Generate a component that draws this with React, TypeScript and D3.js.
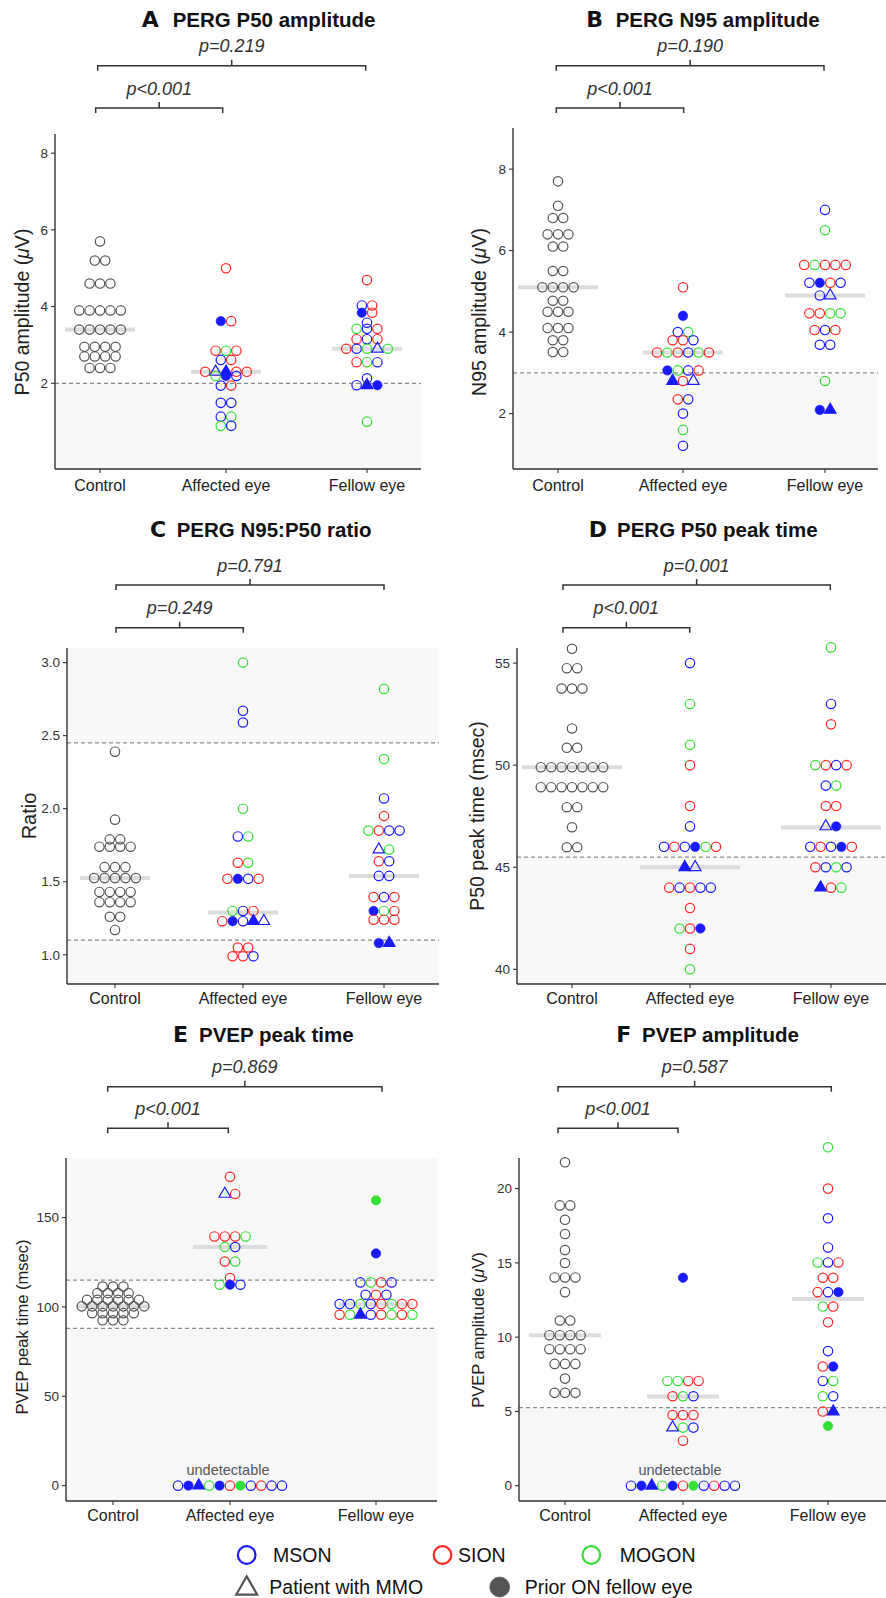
import React from 'react';
import * as d3 from 'd3';

const W = 886;
const H = 1598;
const FONT = '"Liberation Sans", Arial, Helvetica, sans-serif';

const categories = ['Control', 'Affected eye', 'Fellow eye'];

// point code: M = MSON, S = SION, G = MOGON, c = control; t = patient with MMO, f = prior ON fellow eye
type Pt = [number, string];

const COLORS: Record<string, string> = { c: '#555555', M: '#1a1aff', S: '#ff2626', G: '#33e033' };

// ---- A: PERG P50 amplitude
const aCtrl = [5.7, 5.2, 5.2, 4.6, 4.6, 4.6, 3.9, 3.9, 3.9, 3.9, 3.9, 3.4, 3.4, 3.4, 3.4, 3.4,
  2.95, 2.95, 2.95, 2.95, 2.7, 2.7, 2.7, 2.7, 2.4, 2.4, 2.4];
const aAff: Pt[] = [
  [5.0, 'S'], [3.62, 'Mf'], [3.62, 'S'], [2.85, 'S'], [2.85, 'G'], [2.85, 'S'], [2.61, 'M'], [2.61, 'S'],
  [2.3, 'S'], [2.3, 'Mt'], [2.3, 'Mtf'], [2.3, 'S'], [2.3, 'S'], [2.19, 'G'], [2.19, 'Mf'], [2.19, 'M'],
  [1.94, 'M'], [1.94, 'S'], [1.49, 'M'], [1.49, 'M'], [1.13, 'M'], [1.13, 'G'], [0.89, 'G'], [0.89, 'M'],
];
const aFel: Pt[] = [
  [4.69, 'S'], [4.03, 'M'], [4.03, 'S'], [3.84, 'Mf'], [3.84, 'S'], [3.58, 'M'],
  [3.42, 'G'], [3.42, 'M'], [3.42, 'S'], [3.15, 'S'], [3.15, 'M'], [3.15, 'S'],
  [2.9, 'S'], [2.9, 'M'], [2.9, 'G'], [2.9, 'Mt'], [2.9, 'G'], [2.55, 'S'], [2.55, 'G'], [2.55, 'M'],
  [2.13, 'M'], [1.95, 'M'], [1.95, 'Mtf'], [1.95, 'Mf'], [1.0, 'G'],
];
const aMedians = [3.4, 2.3, 2.9];

// ---- B: PERG N95 amplitude
const bCtrl = [7.7, 7.1, 6.8, 6.8, 6.4, 6.4, 6.4, 6.1, 6.1, 5.5, 5.5, 5.1, 5.1, 5.1, 5.1, 4.77, 4.77,
  4.5, 4.5, 4.5, 4.1, 4.1, 4.1, 3.8, 3.8, 3.51, 3.51];
const bAff: Pt[] = [
  [5.1, 'S'], [4.4, 'Mf'], [4.0, 'M'], [4.0, 'G'], [3.8, 'S'], [3.8, 'S'], [3.8, 'M'],
  [3.5, 'S'], [3.5, 'G'], [3.5, 'S'], [3.5, 'M'], [3.5, 'G'], [3.5, 'S'],
  [3.06, 'Mf'], [3.06, 'G'], [3.06, 'M'], [3.06, 'S'], [2.8, 'Mtf'], [2.8, 'S'], [2.8, 'Mt'],
  [2.35, 'S'], [2.35, 'M'], [2.0, 'M'], [1.6, 'G'], [1.21, 'M'],
];
const bFel: Pt[] = [
  [7.0, 'M'], [6.5, 'G'], [5.65, 'S'], [5.65, 'G'], [5.65, 'S'], [5.65, 'S'], [5.65, 'S'],
  [5.21, 'M'], [5.21, 'Mf'], [5.21, 'S'], [5.21, 'M'], [4.9, 'M'], [4.9, 'Mt'],
  [4.46, 'S'], [4.46, 'S'], [4.46, 'G'], [4.46, 'G'], [4.05, 'S'], [4.05, 'M'], [4.05, 'S'],
  [3.69, 'M'], [3.69, 'M'], [2.8, 'G'], [2.09, 'Mf'], [2.09, 'Mtf'],
];
const bMedians = [5.1, 3.5, 4.9];

// ---- C: PERG N95:P50 ratio
const cCtrl = [2.39, 1.925, 1.79, 1.79, 1.74, 1.74, 1.74, 1.74, 1.6, 1.6, 1.6, 1.525, 1.525, 1.525, 1.525, 1.525,
  1.43, 1.43, 1.43, 1.43, 1.36, 1.36, 1.36, 1.36, 1.26, 1.26, 1.17];
const cAff: Pt[] = [
  [3.0, 'G'], [2.67, 'M'], [2.59, 'M'], [2.0, 'G'], [1.81, 'M'], [1.81, 'G'], [1.63, 'S'], [1.63, 'G'],
  [1.52, 'S'], [1.52, 'Mf'], [1.52, 'M'], [1.52, 'S'], [1.3, 'G'], [1.3, 'M'], [1.3, 'S'],
  [1.23, 'S'], [1.23, 'Mf'], [1.23, 'M'], [1.23, 'Mtf'], [1.23, 'Mt'],
  [1.05, 'S'], [1.05, 'S'], [0.99, 'S'], [0.99, 'S'], [0.99, 'M'],
];
const cFel: Pt[] = [
  [2.82, 'G'], [2.34, 'G'], [2.07, 'M'], [1.95, 'S'], [1.85, 'G'], [1.85, 'S'], [1.85, 'M'], [1.85, 'M'],
  [1.72, 'Mt'], [1.72, 'G'], [1.64, 'S'], [1.64, 'M'], [1.54, 'M'], [1.54, 'M'],
  [1.395, 'S'], [1.395, 'M'], [1.395, 'S'], [1.3, 'Mf'], [1.3, 'G'], [1.3, 'S'],
  [1.24, 'S'], [1.24, 'S'], [1.24, 'S'], [1.08, 'Mf'], [1.08, 'Mtf'],
];
const cMedians = [1.525, 1.29, 1.54];

// ---- D: PERG P50 peak time
const dCtrl = [55.7, 54.75, 54.75, 53.75, 53.75, 53.75, 51.8, 50.85, 50.85,
  49.9, 49.9, 49.9, 49.9, 49.9, 49.9, 49.9, 48.92, 48.92, 48.92, 48.92, 48.92, 48.92, 48.92,
  47.94, 47.94, 46.96, 45.98, 45.98];
const dAff: Pt[] = [
  [55, 'M'], [53, 'G'], [51, 'G'], [50, 'S'], [48, 'S'], [47, 'M'],
  [46, 'M'], [46, 'S'], [46, 'M'], [46, 'Mf'], [46, 'G'], [46, 'S'], [45, 'Mtf'], [45, 'Mt'],
  [44, 'S'], [44, 'M'], [44, 'S'], [44, 'M'], [44, 'M'], [43, 'S'], [42, 'G'], [42, 'S'], [42, 'Mf'],
  [41, 'S'], [40, 'G'],
];
const dFel: Pt[] = [
  [55.77, 'G'], [53, 'M'], [52, 'S'], [50, 'G'], [50, 'S'], [50, 'M'], [50, 'S'], [49, 'M'], [49, 'G'],
  [48, 'S'], [48, 'S'], [47, 'Mt'], [47, 'Mf'], [46, 'M'], [46, 'S'], [46, 'M'], [46, 'Mf'], [46, 'S'],
  [45, 'S'], [45, 'M'], [45, 'G'], [45, 'M'], [44, 'Mtf'], [44, 'S'], [44, 'G'],
];
const dMedians = [49.9, 45, 46.95];

// ---- E: PVEP peak time
const undetectable: Pt[] = [
  [0, 'M'], [0, 'Mf'], [0, 'Mtf'], [0, 'G'], [0, 'Mf'], [0, 'S'], [0, 'Gf'], [0, 'M'], [0, 'S'], [0, 'M'], [0, 'M'],
];
const eCtrl = [111.4, 111.4, 111.4, 107.7, 107.7, 107.7, 107.7, 104, 104, 104, 104, 104, 104,
  100.3, 100.3, 100.3, 100.3, 100.3, 100.3, 100.3, 96.5, 96.5, 96.5, 96.5, 96.5, 92.5, 92.5, 92.5];
const eAff: Pt[] = [
  [172.8, 'S'], [163.2, 'Mt'], [163.2, 'S'], [139.4, 'S'], [139.4, 'S'], [139.4, 'S'], [139.4, 'G'],
  [133.5, 'G'], [133.5, 'M'], [125.4, 'S'], [125.4, 'G'], [116.1, 'S'],
  [112.4, 'G'], [112.4, 'Mf'], [112.4, 'M'], ...undetectable,
];
const eFel: Pt[] = [
  [159.6, 'Gf'], [129.9, 'Mf'], [113.7, 'M'], [113.7, 'G'], [113.7, 'S'], [113.7, 'M'],
  [106.8, 'M'], [106.8, 'S'], [106.8, 'M'],
  [101.6, 'M'], [101.6, 'M'], [101.6, 'G'], [101.6, 'M'], [101.6, 'S'], [101.6, 'G'], [101.6, 'S'], [101.6, 'S'],
  [95.6, 'S'], [95.6, 'G'], [95.6, 'Mtf'], [95.6, 'M'], [95.6, 'S'], [95.6, 'G'], [95.6, 'S'], [95.6, 'G'],
];
const eMedians = [100.3, 133.5, 101.5];

// ---- F: PVEP amplitude
const fCtrl = [21.77, 18.87, 18.87, 17.9, 16.94, 15.86, 14.99, 14.02, 14.02, 14.02, 13.03, 11.12, 11.12,
  10.13, 10.13, 10.13, 10.13, 9.19, 9.19, 9.19, 9.19, 8.2, 8.2, 8.2, 7.21, 6.25, 6.25, 6.25];
const fAff: Pt[] = [
  [14, 'Mf'], [7.05, 'G'], [7.05, 'G'], [7.05, 'S'], [7.05, 'S'], [6.02, 'S'], [6.02, 'G'], [6.02, 'M'],
  [4.76, 'S'], [4.76, 'S'], [4.76, 'S'], [3.91, 'Mt'], [3.91, 'G'], [3.91, 'M'], [3.03, 'S'], ...undetectable,
];
const fFel: Pt[] = [
  [22.78, 'G'], [20, 'S'], [18, 'M'], [16.04, 'M'], [15.03, 'G'], [15.03, 'M'], [15.03, 'S'],
  [14, 'S'], [14, 'S'], [13.03, 'S'], [13.03, 'M'], [13.03, 'Mf'], [12.06, 'G'], [12.06, 'S'],
  [11, 'S'], [9.06, 'M'], [8.02, 'S'], [8.02, 'Mf'], [7.05, 'M'], [7.05, 'G'], [6.02, 'G'], [6.02, 'M'],
  [4.99, 'S'], [4.99, 'Mtf'], [4.02, 'Gf'],
];
const fMedians = [10.13, 6.0, 12.56];

const legendItems = [
  { label: 'MSON', code: 'M' }, { label: 'SION', code: 'S' }, { label: 'MOGON', code: 'G' },
  { label: 'Patient with MMO', code: 'kt' }, { label: 'Prior ON fellow eye', code: 'kf' },
];

const panels = [
  {
    letter: 'A', title: 'PERG P50 amplitude', ylabel: ['P50 amplitude (', 'μ', 'V)'], ylabelSize: 19.5,
    ylabelPos: [29, 312], frame: { left: 55, top: 134, bottom: 469, right: 421 }, domain: [-0.235, 8.5],
    xs: [100, 226, 367], ticks: [2, 4, 6, 8], fmt: d3.format('d'),
    data: [aCtrl, aAff, aFel], medians: aMedians, medW: 70, refs: [2], shade: [[-Infinity, 2]],
    pvals: ['p<0.001', 'p=0.219'], brY: [108, 65.7], brX: [[95.7, 222.7], [97.7, 365.7]],
    titlePos: [141.7, 172.7, 26.7], xlabY: 491,
  },
  {
    letter: 'B', title: 'PERG N95 amplitude', ylabel: ['N95 amplitude (', 'μ', 'V)'], ylabelSize: 19.5,
    ylabelPos: [486, 312], frame: { left: 513, top: 128, bottom: 469, right: 878 }, domain: [0.64, 9.01],
    xs: [558, 683, 825], ticks: [2, 4, 6, 8], fmt: d3.format('d'),
    data: [bCtrl, bAff, bFel], medians: bMedians, medW: 80, refs: [3], shade: [[-Infinity, 3]],
    pvals: ['p<0.001', 'p=0.190'], brY: [108, 65.7], brX: [[556.3, 683.7], [556.3, 824]],
    titlePos: [586.3, 615.7, 27], xlabY: 491,
  },
  {
    letter: 'C', title: 'PERG N95:P50 ratio', ylabel: ['Ratio'], ylabelSize: 20,
    ylabelPos: [36, 816], frame: { left: 67, top: 648, bottom: 984, right: 439 }, domain: [0.8, 3.1],
    xs: [115, 243, 384], ticks: [1, 1.5, 2, 2.5, 3], fmt: d3.format('.1f'),
    data: [cCtrl, cAff, cFel], medians: cMedians, medW: 70, refs: [2.45, 1.1],
    shade: [[2.45, Infinity], [-Infinity, 1.1]],
    pvals: ['p=0.249', 'p=0.791'], brY: [627.7, 585], brX: [[116, 243.3], [116, 384]],
    titlePos: [150, 176.7, 537], xlabY: 1004,
  },
  {
    letter: 'D', title: 'PERG P50 peak time', ylabel: ['P50 peak time  (msec)'], ylabelSize: 19.5,
    ylabelPos: [484, 816], frame: { left: 517, top: 648, bottom: 984, right: 886 }, domain: [39.28, 55.74],
    xs: [572, 690, 831], ticks: [40, 45, 50, 55], fmt: d3.format('d'),
    data: [dCtrl, dAff, dFel], medians: dMedians, medW: 100, refs: [45.5], shade: [[-Infinity, 45.5]],
    pvals: ['p<0.001', 'p=0.001'], brY: [627.7, 585], brX: [[563, 689.7], [563, 830.3]],
    titlePos: [588.7, 617, 537], xlabY: 1004,
  },
  {
    letter: 'E', title: 'PVEP peak time', ylabel: ['PVEP peak time (msec)'], ylabelSize: 16.5,
    ylabelPos: [28, 1327], frame: { left: 66, top: 1158, bottom: 1501, right: 437 }, domain: [-8.6, 183.3],
    xs: [113, 230, 376], ticks: [0, 50, 100, 150], fmt: d3.format('d'),
    data: [eCtrl, eAff, eFel], medians: eMedians, medW: 74, refs: [115, 88],
    shade: [[115, Infinity], [-Infinity, 88]],
    pvals: ['p<0.001', 'p=0.869'], brY: [1128.3, 1086.7], brX: [[107.7, 228.3], [107.7, 382]],
    titlePos: [173, 199, 1042], xlabY: 1521, undetX: 228,
  },
  {
    letter: 'F', title: 'PVEP amplitude', ylabel: ['PVEP amplitude (', 'μ', 'V)'], ylabelSize: 16.5,
    ylabelPos: [484, 1330], frame: { left: 519, top: 1158, bottom: 1501, right: 886 }, domain: [-1.03, 22.06],
    xs: [565, 683, 828], ticks: [0, 5, 10, 15, 20], fmt: d3.format('d'),
    data: [fCtrl, fAff, fFel], medians: fMedians, medW: 72, refs: [5.25], shade: [[-Infinity, 5.25]],
    pvals: ['p<0.001', 'p=0.587'], brY: [1128.3, 1086.7], brX: [[558, 678], [558, 831.3]],
    titlePos: [616.3, 642, 1042], xlabY: 1521, undetX: 680,
  },
];

const R = 4.7;
const STEP = 10.4;
const triPath = d3.symbol().type(d3.symbolTriangle).size(58)() as string;

function Marker({ x, y, code, r = R, sw = 1.2, tri = triPath }: any) {
  const col = code[0] === 'k' ? '#555' : COLORS[code[0]];
  const filled = code.includes('f');
  if (code.includes('t')) {
    return (
      <path d={tri} transform={`translate(${x},${y})`} fill={filled ? col : 'none'}
        stroke={col} strokeWidth={sw} strokeLinejoin="miter" />
    );
  }
  return <circle cx={x} cy={y} r={r} fill={filled ? col : 'none'} stroke={col} strokeWidth={filled ? 0.6 : sw} />;
}

function rows(pts: Pt[], cx: number) {
  const out: { v: number; code: string; x: number }[] = [];
  for (const [v, arr] of d3.group(pts, (p) => p[0])) {
    arr.forEach((p, i) => out.push({ v, code: p[1], x: cx + (i - (arr.length - 1) / 2) * STEP }));
  }
  return out;
}

function Panel({ p }: any) {
  const { left, top, bottom, right } = p.frame;
  const y = d3.scaleLinear().domain(p.domain).range([bottom, top]);
  const x = d3.scaleOrdinal<string, number>().domain(categories).range(p.xs);
  const groups: Pt[][] = [p.data[0].map((v: number) => [v, 'c'] as Pt), p.data[1], p.data[2]];
  const dots = groups.flatMap((g, i) => rows(g, x(categories[i])));
  const clampY = (v: number) => Math.max(top, Math.min(bottom, y(Math.max(p.domain[0], Math.min(p.domain[1], v)))));

  return (
    <g>
      {p.shade.map(([lo, hi]: number[], i: number) => (
        <rect key={i} x={left} width={right - left} y={clampY(hi)} height={clampY(lo) - clampY(hi)} fill="#f8f8f8" />
      ))}
      {p.refs.map((v: number) => (
        <line key={v} x1={left} x2={right} y1={y(v)} y2={y(v)} stroke="#8a8a8a" strokeWidth={1.2} strokeDasharray="4,3" />
      ))}
      {p.medians.map((m: number, i: number) => (
        <line key={i} x1={x(categories[i]) - p.medW / 2} x2={x(categories[i]) + p.medW / 2}
          y1={y(m)} y2={y(m)} stroke="#dcdcdc" strokeWidth={4} />
      ))}
      {dots.map((d, i) => <Marker key={i} x={d.x} y={y(d.v)} code={d.code} />)}
      {p.undetX && (
        <text x={p.undetX} y={y(0) - 10.5} textAnchor="middle" fontSize={14.5} fill="#555">undetectable</text>
      )}

      {/* axes */}
      <line x1={left} x2={left} y1={top} y2={bottom} stroke="#333" strokeWidth={1.4} />
      <line x1={left} x2={right} y1={bottom} y2={bottom} stroke="#333" strokeWidth={1.4} />
      {p.ticks.map((t: number) => (
        <g key={t}>
          <line x1={left - 4} x2={left} y1={y(t)} y2={y(t)} stroke="#333" strokeWidth={1.1} />
          <text x={left - 7} y={y(t)} dy="0.35em" textAnchor="end" fontSize={13.5} fill="#333">{p.fmt(t)}</text>
        </g>
      ))}
      {categories.map((c) => (
        <g key={c}>
          <line x1={x(c)} x2={x(c)} y1={bottom} y2={bottom + 4} stroke="#333" strokeWidth={1.1} />
          <text x={x(c)} y={p.xlabY} textAnchor="middle" fontSize={16} fill="#222">{c}</text>
        </g>
      ))}
      <text transform={`translate(${p.ylabelPos[0]},${p.ylabelPos[1]}) rotate(-90)`} textAnchor="middle"
        fontSize={p.ylabelSize} fill="#222">
        {p.ylabel.map((s: string, i: number) => (
          <tspan key={i} fontStyle={s === 'μ' ? 'italic' : 'normal'}>{s}</tspan>
        ))}
      </text>

      {/* p-value brackets */}
      {p.pvals.map((lab: string, i: number) => {
        const [x1, x2] = p.brX[i];
        const yb = p.brY[i];
        const mid = (x1 + x2) / 2;
        return (
          <g key={lab + i}>
            <path d={`M${x1},${yb + 5}V${yb}H${x2}V${yb + 5}M${mid},${yb}V${yb - 6}`} fill="none" stroke="#333" strokeWidth={1.5} />
            <text x={mid} y={yb - 13.5} textAnchor="middle" fontSize={18} fontStyle="italic" fill="#333">{lab}</text>
          </g>
        );
      })}

      {/* title */}
      <text x={p.titlePos[0]} y={p.titlePos[2]} fontFamily='"DejaVu Sans", sans-serif' fontWeight={900} fontSize={22} fill="#111">{p.letter}</text>
      <text x={p.titlePos[1]} y={p.titlePos[2]} fontWeight={700} fontSize={20.5} fill="#111">{p.title}</text>
    </g>
  );
}

function Legend() {
  const pos = [
    [246.7, 1555, 273], [442.5, 1555, 458], [591.3, 1555, 619.7],
    [246.7, 1587, 269.3], [499.7, 1587, 524.7],
  ];
  const bigTri = d3.symbol().type(d3.symbolTriangle).size(190)() as string;
  return (
    <g>
      {legendItems.map((it, i) => (
        <g key={it.label}>
          <Marker x={pos[i][0]} y={pos[i][1] + (it.code === 'kt' ? 1.5 : 0)} code={it.code} r={it.code === 'kf' ? 10 : 8.8} sw={2.2} tri={bigTri} />
          <text x={pos[i][2]} y={pos[i][1] + 6.5} fontSize={19.5} fill="#111">{it.label}</text>
        </g>
      ))}
    </g>
  );
}

export default function App() {
  return (
    <svg width={W} height={H} style={{ position: 'absolute', left: 0, top: 0, background: '#fff' }} fontFamily={FONT}>
      <rect width={W} height={H} fill="#fff" />
      {panels.map((p) => <Panel key={p.letter} p={p} />)}
      <Legend />
    </svg>
  );
}
